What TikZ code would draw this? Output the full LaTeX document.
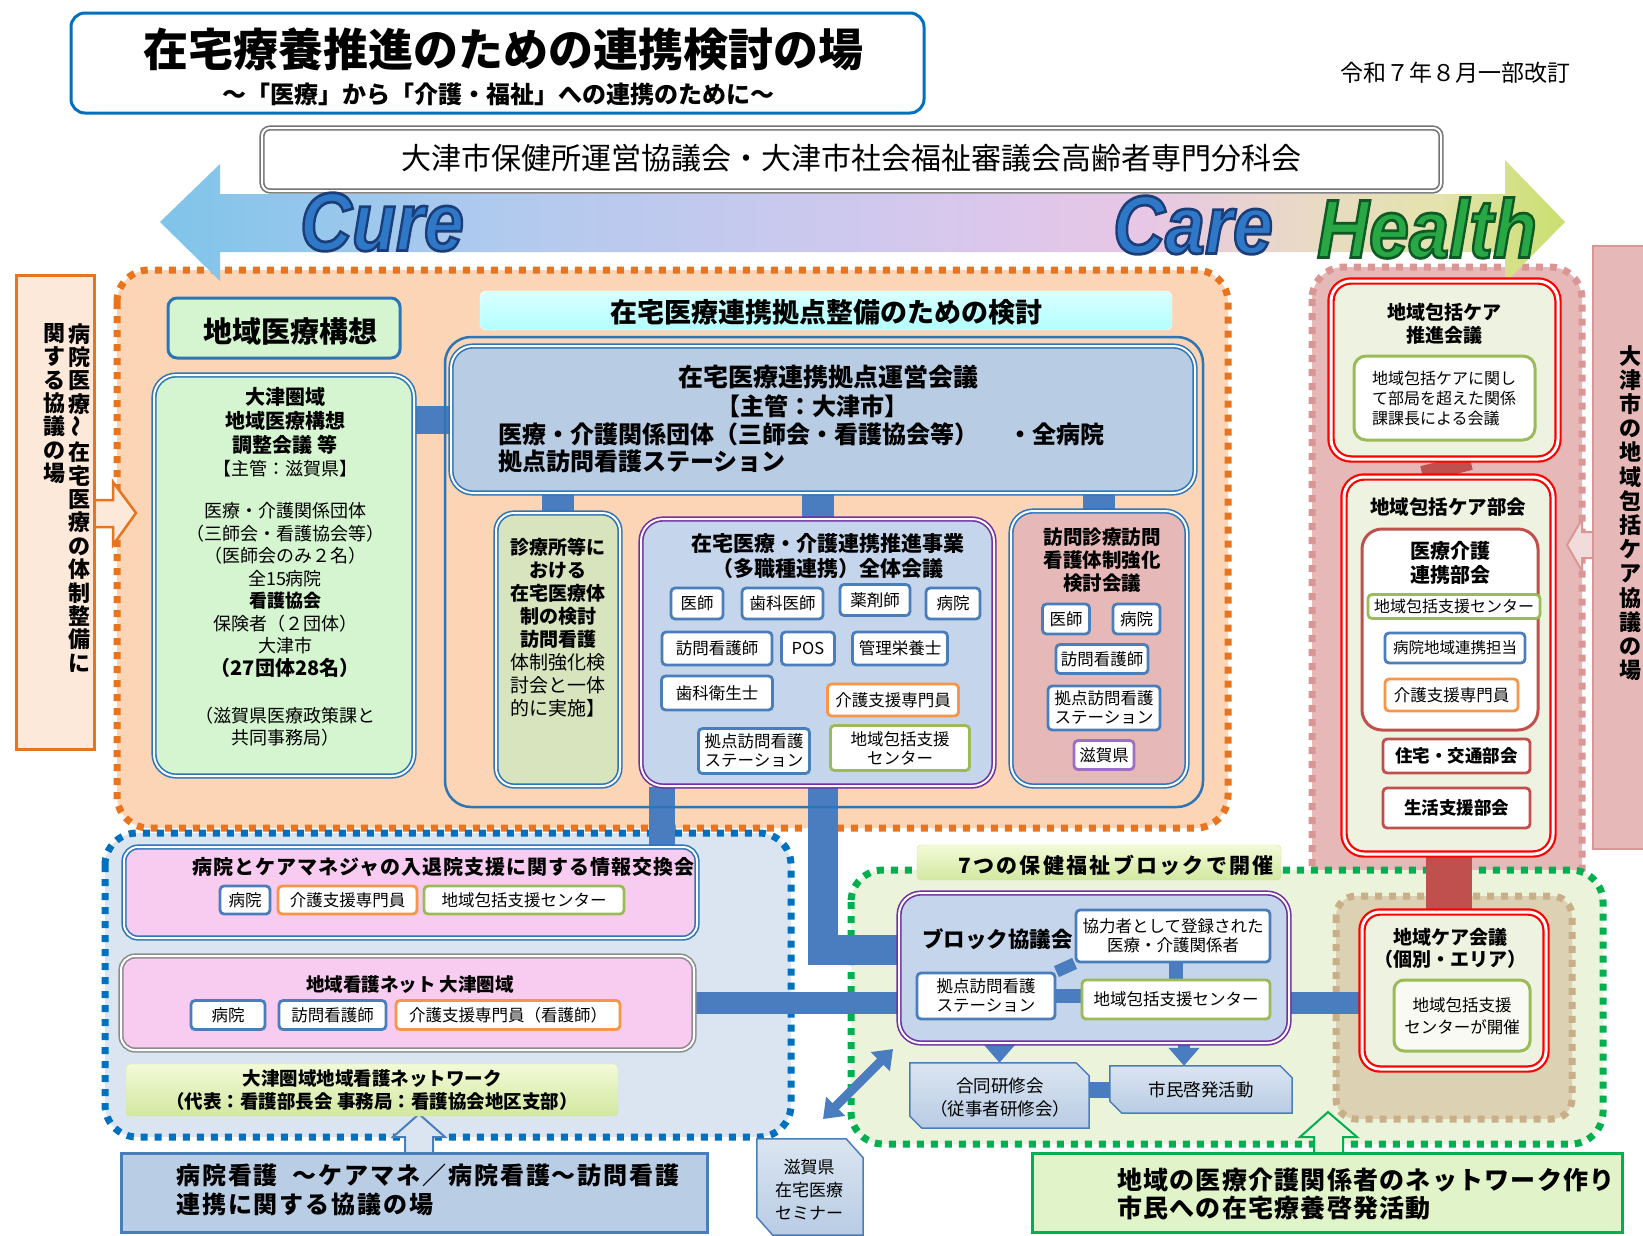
\documentclass[tikz,border=0pt]{standalone}
\usepackage{fontspec}
\usepackage{graphicx}
\setmainfont{Noto Sans CJK JP}
\newfontfamily\latinf{Liberation Sans}
\usetikzlibrary{fit,arrows.meta}
\pgfdeclarelayer{bg}\pgfdeclarelayer{mid}\pgfdeclarelayer{fore}
\pgfsetlayers{bg,mid,main,fore}
\definecolor{bblue}{HTML}{2E75B6}
\definecolor{connb}{HTML}{4A7DC0}
\definecolor{orng}{HTML}{E8741E}
\definecolor{peach}{HTML}{FBD5B5}
\definecolor{hospfill}{HTML}{FDE9D9}
\definecolor{mint}{HTML}{D4F5CF}
\definecolor{steel}{HTML}{B8CCE4}
\definecolor{lav}{HTML}{C5D5EB}
\definecolor{olive}{HTML}{D7E4BD}
\definecolor{purp}{HTML}{7030A0}
\definecolor{lpurp}{HTML}{9B6FC8}
\definecolor{rose}{HTML}{E6B9B8}
\definecolor{roseb}{HTML}{D99694}
\definecolor{mag}{HTML}{F8CBF0}
\definecolor{dblue}{HTML}{0070C0}
\definecolor{regblue}{HTML}{DBE5F1}
\definecolor{grn}{HTML}{00B050}
\definecolor{reggrn}{HTML}{EBF3DA}
\definecolor{tanc}{HTML}{DDD1B4}
\definecolor{tanb}{HTML}{C9AF88}
\definecolor{cream}{HTML}{EEF2E0}
\definecolor{dred}{HTML}{C0504D}
\definecolor{lgrn}{HTML}{9BBB59}
\definecolor{chipb}{HTML}{4A7EBB}
\definecolor{chipo}{HTML}{F79646}
\definecolor{botfill}{HTML}{B9CDE5}
\definecolor{netfill}{HTML}{E1F3C8}
\definecolor{bantop}{HTML}{F3FAD8}
\definecolor{banbot}{HTML}{D2E8A0}
\definecolor{s1}{HTML}{7FC4EA}
\definecolor{s2}{HTML}{B0CAEE}
\definecolor{s3}{HTML}{D2C8EE}
\definecolor{s4}{HTML}{E8C6E6}
\definecolor{s5}{HTML}{E9D9C6}
\definecolor{s6}{HTML}{E4E3AC}
\definecolor{s7}{HTML}{C9DF6E}
\definecolor{curef}{HTML}{2F78C8}
\definecolor{healf}{HTML}{28A745}
\pgfdeclarehorizontalshading{arrowshade}{100bp}{color(0bp)=(s1); color(25bp)=(s1); color(37bp)=(s2); color(51bp)=(s3); color(60bp)=(s4); color(65.6bp)=(s5); color(70.5bp)=(s6); color(75bp)=(s7); color(100bp)=(s7)}
\newcommand\jfs[2]{\fontsize{#1}{#2}\selectfont}
% outlined text: #1 text, #2 fill colour, #3 stroke colour as "r g b"
\newcommand\otext[3]{{\color{#2}\special{pdf:literal direct q 2 Tr 2.4 w #3 RG}#1\special{pdf:literal direct Q}}}
\begin{document}
\begin{tikzpicture}[x=1pt,y=-1pt,
 box/.style={inner sep=0pt, align=center},
 txt/.style={inner sep=0pt, align=center},
 dbl/.style={double=white, double distance=2pt, line width=1.6pt},
 redbox/.style={draw=red, double=white, double distance=3pt, line width=2.2pt},
 chip/.style={rectangle, rounded corners=4pt, fill=white, draw=chipb, line width=2.8pt, inner sep=0pt, align=center, font=\jfs{16.5}{19}},
 chipo/.style={chip, draw=chipo},
 chipg/.style={chip, draw=lgrn},
 chipp/.style={chip, draw=lpurp},
 chipr/.style={chip, draw=dred},
 reg/.style={rounded corners=32pt, line width=7pt, dash pattern=on 7pt off 7pt},
 conn/.style={draw=connb, line width=26pt},
 redconn/.style={draw=dred, line width=46pt},
 blockarrow/.style={line width=2pt},
 curefont/.style={font=\latinf\bfseries\itshape\jfs{72}{80}}
]
\useasboundingbox (0,0) rectangle (1643,1235);

% ---------- background regions ----------
\begin{pgfonlayer}{bg}
\fill[white] (0,0) rectangle (1643,1235);
\draw[reg, draw=orng, fill=peach] (117,270) rectangle (1228,828);
\draw[reg, draw=dblue, fill=regblue] (105,833) rectangle (791,1137);
\draw[reg, draw=roseb, fill=rose] (1312,267) rectangle (1582,905);
\draw[reg, draw=grn, fill=reggrn] (851,870) rectangle (1603,1144);
\draw[reg, draw=tanb, fill=tanc, rounded corners=20pt] (1336,896) rectangle (1572,1119);
\shade[shading=arrowshade] (160,222) -- (220,164) -- (220,194) -- (1505,194) -- (1505,160) -- (1565,222) -- (1505,283) -- (1505,252) -- (220,252) -- (220,281) -- cycle;
\end{pgfonlayer}

% ---------- title ----------
\node[box, draw=dblue, line width=3pt, rounded corners=14pt, fill=white, fit={(71,13) (924,113)}] (title) {};
\node[txt, font=\jfs{45}{50}\bfseries] (tt) at (503,49) {在宅療養推進のための連携検討の場};
\node[txt, font=\jfs{24}{28}\bfseries] (st) at (498,94) {～「医療」から「介護・福祉」への連携のために～};
\node[txt, font=\jfs{23}{28}] (date) at (1455,73) {令和７年８月一部改訂};
\node[box, draw=black!55, dbl, rounded corners=8pt, fill=white, fit={(262,128) (1441,191)}] (council) {};
\node[txt, font=\jfs{30}{34}] (councilt) at (851,158) {大津市保健所運営協議会・大津市社会福祉審議会高齢者専門分科会};

\node[txt, curefont] (cure) at (382,222) {\scalebox{1}[1.15]{\otext{Cure}{curef}{0.106 0.243 0.471}}};
\node[txt, curefont] (care) at (1193,225) {\scalebox{1}[1.15]{\otext{Care}{curef}{0.106 0.243 0.471}}};
\node[txt, curefont] (health) at (1427,228) {\scalebox{1}[1.15]{\otext{Health}{healf}{0.055 0.353 0.145}}};

% ---------- left side ----------
\node[box, draw=orng, line width=3pt, fill=hospfill, fit={(16,275) (94,749)}] (hosp) {};
\node[txt, anchor=north, font=\jfs{22}{23.4}\bfseries] (hospt1) at (79,323) {病\\院\\医\\療\\\rotatebox{90}{～}\\在\\宅\\医\\療\\の\\体\\制\\整\\備\\に};
\node[txt, anchor=north, font=\jfs{22}{23.4}\bfseries] (hospt2) at (54,323) {関\\す\\る\\協\\議\\の\\場};

\node[box, draw=bblue, line width=3pt, rounded corners=9pt, fill=mint, fit={(168,298) (400,358)}] (vision) {};
\node[txt, font=\jfs{29}{32}\bfseries] (visiont) at (290,331) {地域医療構想};
\node[box, draw=white, rounded corners=6pt, top color=white!85!cyan, bottom color=white!70!cyan, fit={(480,291) (1172,330)}] (exam) {};
\node[txt, font=\jfs{27}{30}\bfseries] (examt) at (826,312) {在宅医療連携拠点整備のための検討};

\node[box, draw=bblue, dbl, rounded corners=22pt, fill=mint, fit={(154,375) (414,776)}] (otsu) {};
\node[txt, font=\jfs{20}{24.4}\bfseries] (otsu1) at (285,421) {大津圏域\\地域医療構想\\調整会議\ 等};
\node[txt, font=\jfs{18}{22}] (otsu2) at (285,469) {【主管：滋賀県】};
\node[txt, font=\jfs{18}{22.5}] (otsu3) at (285,590) {医療・介護関係団体\\（三師会・看護協会等）\\（医師会のみ２名）\\全15病院\\{\bfseries 看護協会}\\保険者（２団体）\\大津市\\{\bfseries\jfs{20}{22.5}（27団体28名）}};
\node[txt, font=\jfs{18}{22}] (otsu4) at (285,727) {（滋賀県医療政策課と\\共同事務局）};

% ---------- home medical container ----------
\node[box, draw=bblue, line width=2.5pt, rounded corners=26pt, fit={(445,337) (1203,807)}] (home) {};
\node[box, draw=bblue, dbl, rounded corners=22pt, fill=steel, fit={(451,346) (1195,493)}] (meet) {};
\node[txt, font=\jfs{25}{28}\bfseries] (meet1) at (828,377) {在宅医療連携拠点運営会議};
\node[txt, font=\jfs{24}{28}\bfseries] (meet2) at (812,406) {【主管：大津市】};
\node[txt, anchor=west, font=\jfs{24}{28}\bfseries] (meet3) at (498,434) {医療・介護関係団体（三師会・看護協会等）};
\node[txt, anchor=west, font=\jfs{24}{28}\bfseries] (meet4) at (1008,434) {・全病院};
\node[txt, anchor=west, font=\jfs{24}{28}\bfseries] (meet5) at (498,461) {拠点訪問看護ステーション};

\node[box, draw=bblue, dbl, rounded corners=18pt, fill=olive, fit={(496,513) (620,786)}] (clinic) {};
\node[txt, anchor=north, font=\jfs{19}{23}] (clinict) at (558,538) {{\bfseries 診療所等に}\\{\bfseries おける}\\{\bfseries 在宅医療体}\\{\bfseries 制の検討}\\{\bfseries 訪問看護}\\体制強化検\\討会と一体\\的に実施】};

\node[box, draw=purp, dbl, rounded corners=22pt, fill=lav, fit={(641,519) (994,786)}] (pp) {};
\node[txt, font=\jfs{21}{25}\bfseries] (ppt) at (828,556) {在宅医療・介護連携推進事業\\（多職種連携）全体会議};
\node[chip, minimum width=52pt, minimum height=31pt] (p1) at (697,603.5) {医師};
\node[chip, minimum width=81pt, minimum height=31pt] (p2) at (782.5,603.5) {歯科医師};
\node[chip, minimum width=70pt, minimum height=31pt] (p3) at (875,600) {薬剤師};
\node[chip, minimum width=54pt, minimum height=31pt] (p4) at (953,603.5) {病院};
\node[chip, minimum width=110pt, minimum height=33pt] (p5) at (717,648.5) {訪問看護師};
\node[chip, minimum width=53pt, minimum height=33pt] (p6) at (808,648.5) {POS};
\node[chip, minimum width=95pt, minimum height=33pt] (p7) at (900,648.5) {管理栄養士};
\node[chip, minimum width=111pt, minimum height=34pt] (p8) at (717,693) {歯科衛生士};
\node[chipo, minimum width=131pt, minimum height=32pt] (p9) at (893,700) {介護支援専門員};
\node[chip, minimum width=111pt, minimum height=45pt] (p10) at (754,751) {拠点訪問看護\\ステーション};
\node[chipg, minimum width=139pt, minimum height=45pt] (p11) at (900,748) {地域包括支援\\センター};

\node[box, draw=bblue, dbl, rounded corners=22pt, fill=rose, fit={(1011,511) (1187,786)}] (visit) {};
\node[txt, font=\jfs{19.5}{23}\bfseries] (visitt) at (1102,560) {訪問診療訪問\\看護体制強化\\検討会議};
\node[chip, minimum width=47pt, minimum height=30pt] (v1) at (1066,619) {医師};
\node[chip, minimum width=47pt, minimum height=30pt] (v2) at (1136.5,619) {病院};
\node[chip, minimum width=92pt, minimum height=29pt] (v3) at (1102,659) {訪問看護師};
\node[chip, minimum width=112pt, minimum height=44pt] (v4) at (1104,708) {拠点訪問看護\\ステーション};
\node[chipp, minimum width=60pt, minimum height=29pt] (v5) at (1104,755) {滋賀県};

% ---------- lower left ----------
\node[box, draw=bblue, dbl, rounded corners=14pt, fill=mag, fit={(124,847) (697,938)}] (info) {};
\node[txt, font=\jfs{20}{24}\bfseries\addfontfeatures{LetterSpace=5}] (infot) at (443,867) {病院とケアマネジャの入退院支援に関する情報交換会};
\node[chip, minimum width=50pt, minimum height=28pt] (i1) at (245,900) {病院};
\node[chipo, minimum width=139pt, minimum height=28pt] (i2) at (347.5,900) {介護支援専門員};
\node[chipg, minimum width=200pt, minimum height=28pt] (i3) at (524,900) {地域包括支援センター};

\node[box, draw=black!45, dbl, rounded corners=14pt, fill=mag, fit={(121,956) (694,1050)}] (nk) {};
\node[txt, font=\jfs{18.5}{22}\bfseries] (nkt) at (410,985) {地域看護ネット\ 大津圏域};
\node[chip, minimum width=74pt, minimum height=29pt] (n1) at (228,1015) {病院};
\node[chip, minimum width=107pt, minimum height=29pt] (n2) at (332.5,1015) {訪問看護師};
\node[chipo, minimum width=224pt, minimum height=29pt] (n3) at (508,1015) {介護支援専門員（看護師）};

\node[box, draw=banbot, top color=bantop, bottom color=banbot, rounded corners=4pt, fit={(126,1064) (618,1116)}] (net) {};
\node[txt, font=\jfs{18.5}{23}\bfseries] (nett) at (372,1090) {大津圏域地域看護ネットワーク\\（代表：看護部長会\ 事務局：看護協会地区支部）};

\node[box, draw=chipb, line width=3pt, fill=botfill, fit={(121,1153) (707,1232)}] (bot) {};
\node[txt, anchor=west, align=left, font=\jfs{24}{29}\bfseries\addfontfeatures{LetterSpace=8}] (bott) at (176,1190) {病院看護\ \ ～ケアマネ／病院看護～訪問看護\\連携に関する協議の場};

\node[box, fit={(757,1139) (863,1235)}] (sem) {};
\shadedraw[top color=regblue, bottom color=steel, draw=chipb, line width=1.5pt] (sem.north west) -- ([xshift=-17pt]sem.north east) -- ([yshift=-19pt]sem.north east) -- (sem.south east) -- ([xshift=16pt]sem.south west) -- ([yshift=18pt]sem.south west) -- cycle;
\node[txt, font=\jfs{17}{23}] (semt) at (809,1190) {滋賀県\\在宅医療\\セミナー};
\coordinate (da1) at (823,1119);
\coordinate (da2) at (893,1049);

% ---------- lower right ----------
\node[box, draw=banbot, top color=bantop, bottom color=banbot, rounded corners=4pt, fit={(917,845) (1281,880)}] (seven) {};
\node[txt, font=\jfs{21}{24}\bfseries\addfontfeatures{LetterSpace=11}] (sevent) at (1116,865) {7つの保健福祉ブロックで開催};

\node[box, draw=purp, dbl, rounded corners=22pt, fill=lav, fit={(899,893) (1289,1043)}] (blk) {};
\node[txt, anchor=west, font=\jfs{21.5}{24}\bfseries] (blkt) at (922,939) {ブロック協議会};
\begin{pgfonlayer}{fore}
\node[chip, minimum width=194pt, minimum height=52pt] (kr) at (1173,936) {協力者として登録された\\医療・介護関係者};
\node[chip, minimum width=138pt, minimum height=46pt] (kt) at (986,996) {拠点訪問看護\\ステーション};
\node[chipg, minimum width=188pt, minimum height=39pt] (ch) at (1176,999.5) {地域包括支援センター};
\end{pgfonlayer}
\draw[conn, line width=12pt] (kt.north east) -- (kr.south west);
\draw[conn, line width=14pt] (kr.south -| ch.north) -- (ch.north);
\draw[conn, line width=14pt] (kt.east) -- (kt.east -| ch.west);

\node[box, fit={(910,1063) (1089,1128)}] (gk) {};
\shadedraw[top color=regblue, bottom color=steel, draw=chipb, line width=1.5pt] (gk.north west) -- ([xshift=-13pt]gk.north east) -- ([yshift=-13pt]gk.north east) -- (gk.south east) -- ([xshift=12pt]gk.south west) -- ([yshift=12pt]gk.south west) -- cycle;
\node[txt, font=\jfs{17.5}{23}] (gkt) at (1000,1097) {合同研修会\\（従事者研修会）};
\node[box, fit={(1110,1066) (1292,1113)}] (sm) {};
\shadedraw[top color=regblue, bottom color=steel, draw=chipb, line width=1.5pt] (sm.north west) -- ([xshift=-12pt]sm.north east) -- ([yshift=-12pt]sm.north east) -- (sm.south east) -- ([xshift=12pt]sm.south west) -- ([yshift=12pt]sm.south west) -- cycle;
\node[txt, font=\jfs{17.5}{23}] (smt) at (1201,1090) {市民啓発活動};

\node[box, redbox, rounded corners=18pt, fill=cream, fit={(1362,912) (1546,1069)}] (kc) {};
\node[txt, font=\jfs{19}{22}\bfseries] (kct) at (1450,948) {地域ケア会議\\（個別・エリア）};
\node[box, draw=lgrn, line width=3pt, rounded corners=10pt, fill=white!60!cream, fit={(1394,980) (1530,1051)}] (kci) {};
\node[txt, font=\jfs{16.5}{22}] (kcit) at (1462,1016) {地域包括支援\\センターが開催};

\node[box, draw=grn, line width=3pt, fill=netfill, fit={(1032,1153) (1622,1232)}] (netw) {};
\node[txt, anchor=west, align=left, font=\jfs{25}{28}\bfseries\addfontfeatures{LetterSpace=5}] (netwt) at (1117,1194) {地域の医療介護関係者のネットワーク作り\\市民への在宅療養啓発活動};

% ---------- right side ----------
\node[box, redbox, rounded corners=20pt, fill=cream, fit={(1331,281) (1558,459)}] (suishin) {};
\node[txt, font=\jfs{19}{23}\bfseries] (suishint) at (1444,324) {地域包括ケア\\推進会議};
\node[box, draw=lgrn, line width=3pt, rounded corners=12pt, fill=white, fit={(1354,356) (1535,440)}] (sui2) {};
\node[txt, align=left, font=\jfs{16}{20}] (sui2t) at (1444,398) {地域包括ケアに関し\\て部局を超えた関係\\課課長による会議};

\node[box, redbox, rounded corners=20pt, fill=cream, fit={(1344,477) (1553,854)}] (bukai) {};
\node[txt, font=\jfs{19.5}{23}\bfseries] (bukait) at (1448,507) {地域包括ケア部会};
\node[box, draw=dred, line width=3pt, rounded corners=20pt, fill=white, fit={(1362,529) (1538,730)}] (iryo) {};
\node[txt, font=\jfs{20}{24}\bfseries] (iryot) at (1450,563) {医療介護\\連携部会};
\node[chipg, minimum width=172pt, minimum height=24pt, font=\jfs{16}{19}] (b1) at (1454,606.5) {地域包括支援センター};
\node[chip, minimum width=140pt, minimum height=30pt, font=\jfs{15.5}{19}] (b2) at (1455,648) {病院地域連携担当};
\node[chipo, minimum width=133pt, minimum height=32pt] (b3) at (1451.5,695) {介護支援専門員};
\node[chipr, minimum width=147pt, minimum height=34pt, font=\jfs{17.5}{20}\bfseries] (b4) at (1456.5,756) {住宅・交通部会};
\node[chipr, minimum width=147pt, minimum height=40pt, font=\jfs{17.5}{20}\bfseries] (b5) at (1456.5,808) {生活支援部会};

\node[box, draw=roseb, line width=2pt, fill=rose, fit={(1593,246) (1660,849)}] (rp) {};
\node[txt, anchor=north, font=\jfs{22}{24.2}\bfseries] (rpt) at (1630,345) {大\\津\\市\\の\\地\\域\\包\\括\\ケ\\ア\\協\\議\\の\\場};

% ---------- connectors (behind boxes) ----------
\begin{pgfonlayer}{mid}
\draw[orng, blockarrow, line width=2.5pt, fill=hospfill] (94,500) -- (113,500) -- (113,482) -- (136,513) -- (113,545) -- (113,527) -- (94,527);
\draw[roseb, blockarrow, fill=white!50!rose] (1593,532) -- (1582,532) -- (1582,519) -- (1567,545) -- (1582,571) -- (1582,558) -- (1593,558);
\draw[chipb, blockarrow, fill=regblue] (405,1153) -- (405,1137) -- (393,1137) -- (419,1114) -- (445,1137) -- (433,1137) -- (433,1153);
\draw[grn, blockarrow, fill=reggrn] (1314,1153) -- (1314,1137) -- (1300,1137) -- (1328,1112) -- (1357,1137) -- (1343,1137) -- (1343,1153);

\draw[conn, line width=28pt] (otsu.east |- meet.west) -- (meet.west);
\draw[conn, line width=32pt] (clinic.north) -- (clinic.north |- meet.south);
\draw[conn, line width=32pt] (pp.north) -- (pp.north |- meet.south);
\draw[conn, line width=32pt] (visit.north) -- (visit.north |- meet.south);
\draw[conn, line width=30pt] ([xshift=5pt]pp.south) |- ([yshift=18pt]blk.west);
\draw[conn, line width=26pt] ([xshift=22pt]pp.south west) -- ([xshift=22pt]pp.south west |- info.north);
\draw[conn, line width=22pt] (nk.east) -- (nk.east -| blk.west);
\draw[conn, line width=22pt] (blk.east |- nk.east) -- (kc.west |- nk.east);
\draw[conn, line width=12pt, -{Triangle[width=30pt,length=18pt]}] (gk.north |- kt.south) -- (gk.north);
\draw[conn, line width=12pt, -{Triangle[width=30pt,length=18pt]}] ([xshift=-17pt]sm.north |- ch.south) -- ([xshift=-17pt]sm.north);
\draw[conn, line width=16pt] (gk.east |- sm.west) -- (sm.west);
\draw[conn, line width=9pt, {Triangle[width=26pt,length=18pt]}-{Triangle[width=26pt,length=18pt]}] (da1) -- (da2);
\draw[redconn, line width=50pt] (suishin.south) -- (bukai.north);
\draw[redconn] (bukai.south) -- (bukai.south |- kc.north);
\end{pgfonlayer}
\end{tikzpicture}
\end{document}
